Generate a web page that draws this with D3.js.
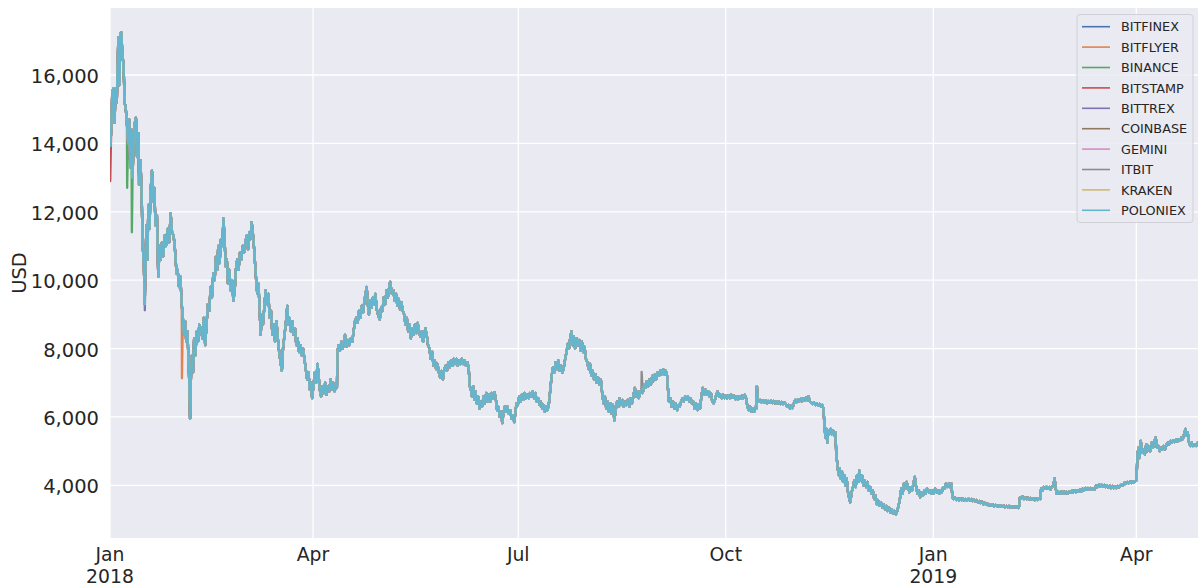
<!DOCTYPE html>
<html><head><meta charset="utf-8">
<script src="https://cdn.jsdelivr.net/npm/d3@7"></script>
<style>
html,body{margin:0;padding:0;background:#fff;}
svg{display:block;font-family:"DejaVu Sans",sans-serif;}
</style>
</head><body>
<svg id="chart" width="1198" height="587"></svg>
<script>
// ---------------- DATA ----------------
const startDate = "2018-01-01";
const exchanges = ["BITFINEX","BITFLYER","BINANCE","BITSTAMP","BITTREX","COINBASE","GEMINI","ITBIT","KRAKEN","POLONIEX"];
const palette = ["#4C72B0","#DD8452","#55A868","#C44E52","#8172B3","#937860","#DA8BC3","#8C8C8C","#CCB974","#64B5CD"];
// BTC price in USD, [days since startDate, price]
const btcPrice = [
[0,13900],[0.5,14300],[1,15500],[1.5,15600],[2,14600],[2.5,15600],[3,15200],[3.7,17100],[4.2,15700],[4.6,17200],[5,17250],[5.5,16600],[6,16300],[6.5,15200],[7,15000],[7.5,14600],[8,14000],[8.5,14700],[9,13300],[9.5,14400],[10,13000],[10.5,14200],[11,14600],[11.5,14750],[12,13600],[12.5,14300],[13,12800],[13.5,13500],[14,12600],[14.5,11000],[15,10500],[15.4,9300],[15.8,10800],[16.2,11600],[16.6,10600],[17,12200],[17.5,11500],[18,12600],[18.6,13200],[19.1,12300],[19.6,12700],[20.2,11600],[20.8,11900],[21.4,10100],[22,11000],[22.5,10600],[23,11100],[23.6,10700],[24.2,11300],[24.8,11000],[25.5,11500],[26.2,11100],[26.9,11950],[27.5,11400],[28.2,11300],[28.8,10900],[29.5,10200],[30,10300],[30.6,9800],[31.2,10100],[31.8,9300],[32.3,8900],[32.8,8400],[33.3,8800],[33.8,8200],[34.3,8500],[34.8,7700],[35.2,6900],[35.5,5950],[35.8,7000],[36.3,7800],[36.8,7300],[37.3,8300],[37.8,7800],[38.5,8500],[39,8200],[39.6,8700],[40.2,8600],[41,8300],[41.6,8900],[42.2,8100],[42.8,8700],[43.4,9300],[44,9100],[44.6,9800],[45.2,9500],[45.8,10200],[46.4,10000],[47,10700],[47.5,10300],[48,11000],[48.6,10500],[49.2,11200],[49.8,11000],[50.3,11800],[50.8,11200],[51.3,10400],[51.8,10600],[52.3,9900],[52.9,10300],[53.5,9700],[54.1,10000],[54.7,9400],[55.3,9700],[55.8,10300],[56.4,10600],[57,10300],[57.6,10800],[58.2,10600],[58.8,11000],[59.4,10800],[60,11100],[60.6,11300],[61.2,10900],[61.8,11400],[62.3,11200],[62.8,11700],[63.3,11400],[63.8,11000],[64.3,10500],[64.8,10000],[65.3,9600],[65.8,9900],[66.3,9200],[66.8,8400],[67.3,9000],[67.8,8700],[68.4,9200],[69,9700],[69.6,9300],[70.2,9600],[70.8,8900],[71.4,9100],[72,8400],[72.6,8700],[73.2,8200],[73.8,8800],[74.4,8300],[75,7900],[75.6,7600],[76.2,7350],[76.7,8000],[77.2,8300],[77.7,8600],[78.2,8900],[78.6,9250],[79.1,8700],[79.6,8900],[80.2,8500],[80.8,8800],[81.4,8400],[82,8600],[82.6,8100],[83.2,8300],[83.8,7900],[84.4,8100],[85,7800],[85.6,8000],[86.2,7700],[86.8,7400],[87.4,7100],[88,7300],[88.6,6800],[89.2,7000],[89.6,6550],[90.2,6900],[90.8,7300],[91.4,7000],[92,7550],[92.5,7200],[93,6800],[93.6,6600],[94.2,6900],[94.8,6700],[95.4,7000],[96,6650],[96.6,6900],[97.2,6750],[97.8,7100],[98.4,6800],[99,7000],[99.6,6750],[100.2,6900],[100.6,6850],[100.9,7900],[101.3,8100],[102,7950],[102.6,8200],[103.2,8000],[103.8,8150],[104.2,8400],[105,8050],[105.6,8250],[106.2,8100],[106.8,8300],[107.4,8200],[108,8500],[108.6,8800],[109.2,8900],[109.8,8750],[110.4,9100],[111,8900],[111.6,9250],[112.2,9050],[112.8,9400],[113.8,9800],[114.3,9300],[114.8,9000],[115.4,9400],[116,9200],[116.6,9500],[117.2,9300],[117.6,9600],[118.4,9100],[119,8950],[119.6,8850],[120.2,9200],[120.8,9100],[121.4,9500],[122,9300],[122.6,9700],[123.2,9500],[123.8,9800],[124.2,9950],[125,9600],[125.6,9700],[126.2,9400],[126.8,9600],[127.4,9250],[128,9450],[128.6,9150],[129.2,9350],[129.8,9100],[130.4,9000],[131,8700],[131.6,8900],[132.2,8500],[132.8,8700],[133.4,8300],[134,8600],[134.6,8400],[135.2,8700],[135.8,8450],[136.4,8750],[137,8500],[137.6,8350],[138.2,8500],[138.8,8200],[139.4,8400],[139.8,8600],[140.4,8400],[141,8100],[141.6,8000],[142.2,7700],[142.8,7900],[143.4,7500],[144,7650],[144.6,7400],[145.2,7550],[145.8,7300],[146.4,7150],[147,7350],[147.6,7100],[148.2,7400],[148.8,7500],[149.4,7350],[150,7600],[150.6,7450],[151.2,7650],[151.8,7500],[152.4,7700],[153,7550],[153.6,7700],[154.2,7500],[154.8,7650],[155.4,7550],[156,7700],[156.6,7550],[157.2,7650],[157.8,7500],[158.4,7600],[159,7450],[159.5,6900],[160,6800],[160.5,6600],[161,6900],[161.5,6500],[162,6750],[162.6,6400],[163.2,6600],[163.8,6250],[164.4,6450],[165,6300],[165.6,6600],[166.2,6400],[166.8,6700],[167.4,6450],[168,6650],[168.6,6450],[169.2,6700],[169.8,6550],[170.5,6720],[171.1,6500],[171.6,6200],[172.2,6300],[172.8,6000],[173.4,6150],[173.9,5820],[174.4,6100],[175,6300],[175.6,6150],[176.2,6300],[176.8,6100],[177.4,6200],[178,5950],[178.6,6050],[179.2,5850],[179.7,6100],[180.2,6400],[180.8,6350],[181.4,6600],[182,6450],[182.6,6650],[183.2,6500],[183.8,6700],[184.4,6550],[185,6650],[185.6,6550],[186.2,6700],[186.8,6600],[187.4,6750],[188,6550],[188.6,6700],[189.2,6450],[189.8,6550],[190.4,6350],[191,6450],[191.6,6250],[192.2,6350],[192.8,6150],[193.4,6300],[194,6200],[194.6,6400],[195.2,6800],[195.8,7200],[196.4,7450],[197,7300],[197.6,7600],[198.2,7400],[198.8,7650],[199.4,7350],[200,7500],[200.6,7300],[201.2,7450],[201.8,7700],[202.4,7900],[203,8150],[203.5,8000],[204,8300],[204.6,8500],[205.1,8100],[205.6,8350],[206.2,8000],[206.8,8300],[207.4,8100],[208,8250],[208.6,7950],[209.2,8200],[209.8,7900],[210.4,8050],[211,7700],[211.6,7600],[212.2,7400],[212.8,7550],[213.4,7200],[214,7350],[214.6,7100],[215.2,7250],[215.8,7000],[216.4,7150],[217,6950],[217.6,7100],[218.2,6700],[218.8,6400],[219.4,6600],[220,6250],[220.6,6450],[221.2,6150],[221.8,6400],[222.4,6100],[223,6350],[223.6,5900],[224.2,6200],[224.8,6450],[225.4,6300],[226,6550],[226.6,6350],[227.2,6500],[227.8,6300],[228.4,6450],[229,6350],[229.6,6500],[230.2,6300],[230.8,6550],[231.4,6400],[232,6600],[232.7,6850],[233.2,6600],[233.8,6750],[234.4,6550],[235,6700],[235.6,6800],[236.2,6700],[236.8,6950],[237.4,6850],[238,7050],[238.6,6900],[239.2,7100],[239.8,6950],[240.4,7200],[241,7050],[241.6,7250],[242.2,7100],[242.8,7300],[243.4,7200],[244,7350],[244.6,7250],[245.2,7400],[245.8,7250],[246.4,7350],[247,7200],[247.4,6800],[247.8,6450],[248.4,6550],[249,6300],[249.6,6450],[250.2,6250],[250.8,6400],[251.4,6200],[252,6350],[252.6,6300],[253.2,6450],[253.8,6550],[254.4,6450],[255,6600],[255.6,6500],[256.2,6600],[256.8,6450],[257.4,6550],[258,6400],[258.6,6450],[259.2,6250],[259.8,6400],[260.4,6200],[261,6350],[261.6,6250],[262.2,6600],[262.8,6850],[263.4,6650],[264,6800],[264.6,6650],[265.2,6750],[265.8,6600],[266.4,6700],[267,6450],[267.6,6400],[268.2,6500],[268.8,6650],[269.4,6750],[270,6600],[270.6,6650],[271.2,6550],[271.8,6650],[272.4,6550],[273,6620],[273.6,6540],[274.2,6630],[274.8,6550],[275.4,6650],[276,6560],[276.6,6620],[277.2,6520],[277.8,6600],[278.4,6500],[279,6600],[279.6,6540],[280.2,6620],[280.8,6550],[281.4,6650],[282,6550],[282.6,6300],[283.2,6200],[283.8,6300],[284.4,6150],[285,6250],[285.6,6150],[286.2,6300],[286.6,6250],[286.8,6900],[287.1,6550],[287.6,6450],[288.2,6500],[288.8,6430],[289.4,6490],[290,6420],[290.6,6480],[291.2,6400],[291.8,6470],[292.4,6420],[293,6480],[293.6,6410],[294.2,6470],[294.8,6400],[295.4,6460],[296,6390],[296.6,6450],[297.2,6380],[297.8,6440],[298.4,6380],[299,6430],[299.6,6370],[300.2,6300],[300.8,6350],[301.4,6250],[302,6330],[302.6,6260],[303.2,6400],[303.8,6500],[304.4,6430],[305,6520],[305.6,6450],[306.2,6530],[306.8,6460],[307.4,6550],[308,6480],[308.6,6560],[309.2,6490],[309.7,6600],[310.3,6450],[310.9,6420],[311.5,6380],[312.1,6420],[312.7,6350],[313.3,6400],[313.9,6330],[314.5,6380],[315.1,6320],[315.7,6350],[316.3,6250],[316.8,5700],[317.2,5400],[317.6,5650],[318,5250],[318.5,5600],[319,5500],[319.5,5650],[320,5500],[320.6,5600],[321.2,5450],[321.6,5550],[322,4900],[322.5,4600],[323,4300],[323.5,4500],[324,4200],[324.5,4400],[325,4100],[325.5,4300],[326,4000],[326.6,4200],[327.2,3800],[327.8,3600],[328.2,3500],[328.8,3800],[329.4,3950],[330,4150],[330.6,3950],[331.2,4300],[331.8,4100],[332.2,4430],[332.8,4150],[333.4,4300],[334,4000],[334.6,4150],[335.2,3950],[335.8,4100],[336.4,3850],[337,3950],[337.6,3750],[338.2,3850],[338.8,3600],[339.4,3700],[340,3450],[340.6,3550],[341.2,3400],[341.8,3500],[342.4,3350],[343,3450],[343.6,3300],[344.2,3400],[344.8,3250],[345.4,3350],[346,3200],[346.6,3300],[347.2,3180],[347.8,3250],[348.4,3150],[349,3250],[349.6,3400],[350.2,3600],[350.8,3900],[351.4,3750],[352,4050],[352.6,3900],[353.2,4100],[353.8,3950],[354.4,3800],[355,3950],[355.6,3850],[356.2,4050],[356.8,4250],[357.4,3950],[358,3750],[358.6,3850],[359.2,3650],[359.8,3800],[360.4,3700],[361,3850],[361.6,3750],[362.2,3900],[362.8,3800],[363.4,3850],[364,3750],[364.6,3850],[365.2,3750],[365.8,3900],[366.4,3800],[367,3850],[367.6,3750],[368.2,3850],[368.8,3800],[369.4,3950],[370,3900],[370.6,4050],[371.2,3950],[371.8,4050],[372.4,3950],[373,4050],[373.5,3650],[374,3600],[374.6,3640],[375.2,3570],[375.8,3620],[376.4,3560],[377,3620],[377.6,3570],[378.2,3610],[378.8,3560],[379.4,3600],[380,3550],[380.6,3610],[381.2,3560],[381.8,3600],[382.4,3540],[383,3590],[383.6,3530],[384.2,3570],[384.8,3500],[385.4,3540],[386,3480],[386.6,3520],[387.2,3450],[387.8,3490],[388.4,3430],[389,3470],[389.6,3410],[390.2,3450],[390.8,3400],[391.4,3440],[392,3390],[392.6,3430],[393.2,3380],[393.8,3420],[394.4,3370],[395,3410],[395.6,3370],[396.2,3410],[396.8,3360],[397.4,3400],[398,3360],[398.6,3400],[399.2,3350],[399.8,3390],[400.4,3350],[401,3390],[401.6,3350],[402.2,3380],[402.8,3340],[403.2,3400],[403.4,3650],[404,3620],[404.6,3680],[405.2,3600],[405.8,3650],[406.4,3600],[407,3640],[407.6,3580],[408.2,3630],[408.8,3580],[409.4,3620],[410,3570],[410.6,3610],[411.2,3570],[411.8,3620],[412.4,3600],[412.8,3900],[413.4,3850],[414,3950],[414.6,3900],[415.2,3960],[415.8,3900],[416.4,3950],[417,3880],[417.6,3950],[418.2,4000],[418.8,4200],[419.3,3900],[419.8,3750],[420.4,3820],[421,3750],[421.6,3820],[422.2,3760],[422.8,3820],[423.4,3760],[424,3810],[424.6,3750],[425.2,3820],[425.8,3780],[426.4,3850],[427,3800],[427.6,3850],[428.2,3800],[428.8,3860],[429.4,3810],[430,3870],[430.6,3820],[431.2,3900],[431.8,3860],[432.4,3920],[433,3870],[433.6,3920],[434.2,3880],[434.8,3920],[435.4,3870],[436,3910],[436.6,3880],[437.2,4000],[437.8,3950],[438.4,4020],[439,3960],[439.6,4020],[440.2,3960],[440.8,4010],[441.4,3950],[442,4000],[442.6,3940],[443.2,3990],[443.8,3920],[444.4,3980],[445,3920],[445.6,3970],[446.2,3920],[446.8,3980],[447.4,3940],[448,4000],[448.6,4030],[449.2,4000],[449.8,4080],[450.4,4040],[451,4100],[451.6,4060],[452.2,4110],[452.8,4070],[453.4,4120],[454,4080],[454.6,4130],[455.1,4150],[455.5,4900],[456,5100],[456.5,4800],[457,5300],[457.6,4950],[458.2,5050],[458.8,4900],[459.4,5200],[460,5000],[460.6,5150],[461.2,5000],[461.8,5250],[462.4,5100],[463,5300],[463.6,5400],[464.2,5100],[464.8,5150],[465.4,5000],[466,5100],[466.6,5050],[467.2,5150],[467.8,5050],[468.4,5200],[469,5250],[469.6,5200],[470.2,5300],[470.8,5250],[471.4,5320],[472,5270],[472.6,5350],[473.2,5280],[473.8,5350],[474.4,5300],[475,5400],[475.6,5350],[476.2,5500],[476.8,5650],[477.3,5450],[477.8,5550],[478.4,5250],[479,5150],[479.6,5250],[480.2,5150],[480.8,5200],[481.5,5150],[482.2,5250],[482.8,5200]
];
// single-exchange outliers: [exchange, days since startDate, price]
const outliers = [
["BITSTAMP",0.1,12900],["BINANCE",7.6,12700],["BINANCE",9.7,11400],["BINANCE",12.7,12800],
["BITTREX",15.45,9120],["BITFLYER",31.9,7130],["ITBIT",235.7,7320]
];
const yTicks = [4000,6000,8000,10000,12000,14000,16000];
const xTicks = [["2018-01-01","Jan","2018"],["2018-04-01","Apr",""],["2018-07-01","Jul",""],["2018-10-01","Oct",""],["2019-01-01","Jan","2019"],["2019-04-01","Apr",""]];
const yLabel = "USD";

// ---------------- CHART ----------------
const svg = d3.select("#chart");
const plot = {left:110, right:1199, top:8, bottom:538};
const parseDate = d3.utcParse("%Y-%m-%d");
const t0 = parseDate(startDate);
const dayToDate = d => new Date(t0.getTime() + d*86400000);

const x = d3.scaleUtc()
  .domain(d3.extent(btcPrice, d => dayToDate(d[0])))
  .range([plot.left, plot.right]);
const y = d3.scaleLinear().domain([2460, 17960]).range([plot.bottom, plot.top]);

svg.append("rect").attr("x",plot.left).attr("y",plot.top)
  .attr("width",plot.right-plot.left).attr("height",plot.bottom-plot.top).attr("fill","#EAEAF2");

svg.append("defs").append("clipPath").attr("id","clip").append("rect")
  .attr("x",plot.left).attr("y",plot.top).attr("width",plot.right-plot.left).attr("height",plot.bottom-plot.top);

// grid
svg.append("g").selectAll("line").data(yTicks).join("line")
  .attr("x1",plot.left).attr("x2",plot.right)
  .attr("y1",d=>y(d)).attr("y2",d=>y(d))
  .attr("stroke","#fff").attr("stroke-width",1.3);
svg.append("g").selectAll("line").data(xTicks).join("line")
  .attr("x1",d=>x(parseDate(d[0]))).attr("x2",d=>x(parseDate(d[0])))
  .attr("y1",plot.top).attr("y2",plot.bottom)
  .attr("stroke","#fff").attr("stroke-width",1.3);

// axes labels
const fmt = d3.format(",");
svg.append("g").selectAll("text").data(yTicks).join("text")
  .attr("x",99).attr("y",d=>y(d)+8).attr("text-anchor","end")
  .attr("font-size","19.5px").attr("fill","#262626").text(d=>fmt(d));
const xg = svg.append("g");
xg.selectAll("text.m").data(xTicks).join("text").attr("class","m")
  .attr("x",d=>x(parseDate(d[0]))).attr("y",560.5)
  .attr("text-anchor","middle").attr("font-size","18.8px").attr("fill","#262626").text(d=>d[1]);
xg.selectAll("text.yr").data(xTicks.filter(d=>d[2])).join("text").attr("class","yr")
  .attr("x",d=>x(parseDate(d[0]))).attr("y",582.5)
  .attr("text-anchor","middle").attr("font-size","18.8px").attr("fill","#262626").text(d=>d[2]);
svg.append("text").attr("transform","translate(26,273) rotate(-90)")
  .attr("text-anchor","middle").attr("font-size","19.5px").attr("fill","#262626").text(yLabel);

// series
const line = d3.line().x(d=>x(dayToDate(d[0]))).y(d=>y(d[1]));
const gLines = svg.append("g").attr("clip-path","url(#clip)");
exchanges.forEach((ex,i) => {
  const pts = btcPrice.concat(outliers.filter(o=>o[0]===ex).map(o=>[o[1],o[2]]))
    .sort((a,b)=>a[0]-b[0]);
  gLines.append("path").datum(pts)
    .attr("fill","none").attr("stroke",palette[i]).attr("stroke-width",2.3)
    .attr("stroke-linejoin","round").attr("d",line);
});

// legend
const lg = svg.append("g");
lg.append("rect").attr("x",1077).attr("y",14.5).attr("width",116).attr("height",208)
  .attr("rx",3).attr("fill","#EAEAF2").attr("fill-opacity",0.85).attr("stroke","#d0d0d6").attr("stroke-width",1);
exchanges.forEach((ex,i) => {
  const cy = 26.7 + i*20.4;
  lg.append("line").attr("x1",1082).attr("x2",1110).attr("y1",cy).attr("y2",cy)
    .attr("stroke",palette[i]).attr("stroke-width",1.6);
  lg.append("text").attr("x",1121).attr("y",cy+4.6).attr("font-size","12.8px")
    .attr("fill","#262626").text(ex);
});
</script>
</body></html>
